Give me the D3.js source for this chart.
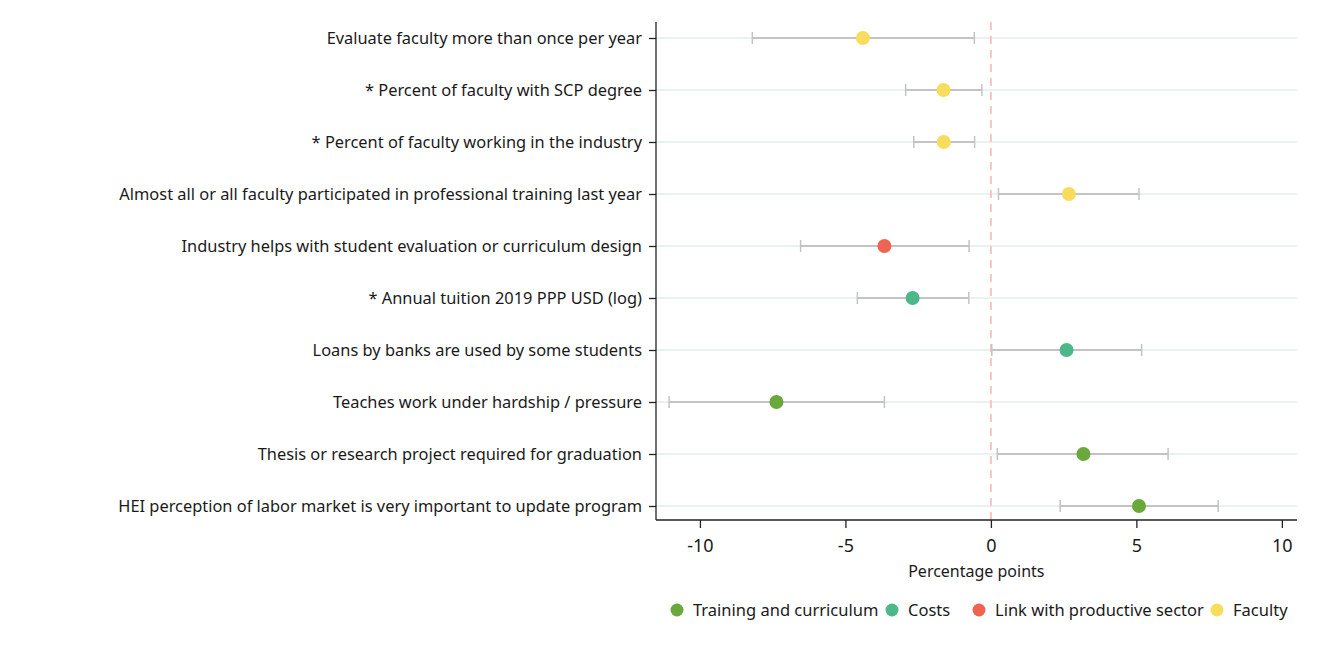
<!DOCTYPE html>
<html>
<head>
<meta charset="utf-8">
<script src="https://cdn.jsdelivr.net/npm/d3@7"></script>
<style>
  html, body { margin: 0; padding: 0; background: #fff; }
  svg { display: block; font-family: "Noto Sans", "Open Sans", sans-serif; }
</style>
</head>
<body>
<svg id="chart" width="1325" height="650"></svg>
<script>
const categories = [
  "Evaluate faculty more than once per year",
  "* Percent of faculty with SCP degree",
  "* Percent of faculty working in the industry",
  "Almost all or all faculty participated in professional training last year",
  "Industry helps with student evaluation or curriculum design",
  "* Annual tuition 2019 PPP USD (log)",
  "Loans by banks are used by some students",
  "Teaches work under hardship / pressure",
  "Thesis or research project required for graduation",
  "HEI perception of labor market is very important to update program"
];
const estimates = [-4.40, -1.63, -1.62, 2.68, -3.66, -2.69, 2.60, -7.37, 3.18, 5.09];
const ciLow     = [-8.20, -2.93, -2.65, 0.26, -6.54, -4.59, 0.03, -11.06, 0.22, 2.38];
const ciHigh    = [-0.57, -0.31, -0.56, 5.09, -0.75, -0.76, 5.18, -3.66, 6.09, 7.81];
const groups    = ["Faculty", "Faculty", "Faculty", "Faculty", "Link with productive sector",
                   "Costs", "Costs", "Training and curriculum", "Training and curriculum", "Training and curriculum"];
const groupNames  = ["Training and curriculum", "Costs", "Link with productive sector", "Faculty"];
const groupColors = ["#6aa83c", "#4cb88a", "#ef6351", "#f8dc5c"];
const xTicks = [-10, -5, 0, 5, 10];
const xLabel = "Percentage points";

const svg = d3.select("#chart");
const pLeft = 656, pRight = 1297, pTop = 22, pBottom = 520;

const x = d3.scaleLinear().domain([-11.51, 10.52]).range([pLeft, pRight]);
const y = d3.scalePoint().domain(categories).range([38, 506]);
const color = d3.scaleOrdinal().domain(groupNames).range(groupColors);

const rows = categories.map((c, i) => ({c, est: estimates[i], lo: ciLow[i], hi: ciHigh[i], g: groups[i]}));

// gridlines
svg.append("g").selectAll("line").data(categories).join("line")
  .attr("x1", pLeft).attr("x2", pRight)
  .attr("y1", d => y(d)).attr("y2", d => y(d))
  .attr("stroke", "#eaf1f3").attr("stroke-width", 2);

// zero line
svg.append("line")
  .attr("x1", x(0)).attr("x2", x(0)).attr("y1", pTop).attr("y2", pBottom)
  .attr("stroke", "#f7c4c6").attr("stroke-width", 2).attr("stroke-dasharray", "8,6");

// CI
const ci = svg.append("g").selectAll("g").data(rows).join("g");
ci.append("line")
  .attr("x1", d => x(d.lo)).attr("x2", d => x(d.hi))
  .attr("y1", d => y(d.c)).attr("y2", d => y(d.c))
  .attr("stroke", "#c3c3c3").attr("stroke-width", 2);
ci.append("line")
  .attr("x1", d => x(d.lo)).attr("x2", d => x(d.lo))
  .attr("y1", d => y(d.c) - 6).attr("y2", d => y(d.c) + 6)
  .attr("stroke", "#c3c3c3").attr("stroke-width", 1.5);
ci.append("line")
  .attr("x1", d => x(d.hi)).attr("x2", d => x(d.hi))
  .attr("y1", d => y(d.c) - 6).attr("y2", d => y(d.c) + 6)
  .attr("stroke", "#c3c3c3").attr("stroke-width", 1.5);

// points
svg.append("g").selectAll("circle").data(rows).join("circle")
  .attr("cx", d => x(d.est)).attr("cy", d => y(d.c)).attr("r", 7)
  .attr("fill", d => color(d.g));

// y axis
const yAxis = svg.append("g").attr("transform", `translate(${pLeft},0)`)
  .call(d3.axisLeft(y).tickSize(7).tickPadding(7));
yAxis.select(".domain").attr("d", `M0,${pTop}V${pBottom}`).attr("stroke", "#222").attr("stroke-width", 1.3);
yAxis.selectAll(".tick line").attr("stroke", "#222").attr("stroke-width", 1.3);
yAxis.selectAll(".tick text").attr("font-size", 16.4).attr("fill", "#1a1a1a")
  .style("font-family", '"Noto Sans", sans-serif');

// x axis
const xAxis = svg.append("g").attr("transform", `translate(0,${pBottom})`)
  .call(d3.axisBottom(x).tickValues(xTicks).tickSize(8).tickPadding(11).tickFormat(d => String(d)));
xAxis.select(".domain").attr("d", `M${pLeft},0H${pRight}`).attr("stroke", "#222").attr("stroke-width", 1.3);
xAxis.selectAll(".tick line").attr("stroke", "#222").attr("stroke-width", 1.3);
xAxis.selectAll(".tick text").attr("font-size", 18).attr("fill", "#1a1a1a")
  .style("font-family", '"Noto Sans", sans-serif');

svg.append("text").attr("x", x(-0.5)).attr("y", 577)
  .attr("text-anchor", "middle").attr("font-size", 16).attr("fill", "#1a1a1a")
  .text(xLabel);

// legend
const legendX = [677, 892, 979, 1217];
const leg = svg.append("g").selectAll("g").data(groupNames).join("g")
  .attr("transform", (d, i) => `translate(${legendX[i]},610)`);
leg.append("circle").attr("r", 6.5).attr("fill", d => color(d));
leg.append("text").attr("x", 16).attr("dy", "0.35em").attr("font-size", 16.5).attr("fill", "#1a1a1a").text(d => d);
</script>
</body>
</html>
